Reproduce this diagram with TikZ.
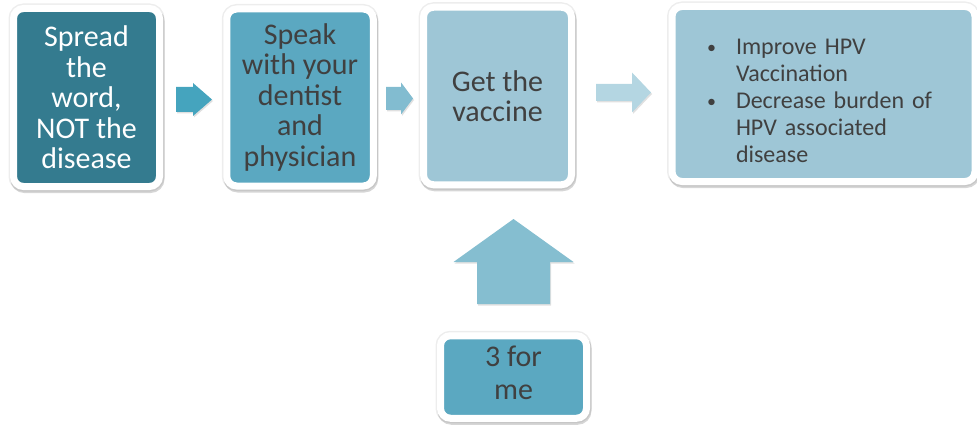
\documentclass[tikz,border=0pt]{standalone}
\usepackage{fontspec}
\setmainfont{Carlito}
\usetikzlibrary{calc,shadows}
\definecolor{DeepTeal}{HTML}{347B8F}
\definecolor{MidTeal}{HTML}{5BA8C1}
\definecolor{PaleTeal}{HTML}{9EC6D6}
\definecolor{ArrowA}{HTML}{45A4BE}
\definecolor{ArrowB}{HTML}{82BCD0}
\definecolor{ArrowC}{HTML}{B4D6E2}
\definecolor{ArrowUp}{HTML}{85BED0}
\definecolor{TextGrey}{HTML}{404040}

\newcommand{\BlockArrow}[6][]{%
  \fill[#1] #2 ++(0,-#5) -- ++({#3-#4},0) -- ++(0,{#5-#6}) -- ++(#4,#6)
    -- ++(-#4,#6) -- ++(0,{#5-#6}) -- ++({#4-#3},0) -- cycle;}
\newcommand{\smallbullet}{\makebox[29pt][l]{\raisebox{1pt}{\fontsize{18}{18}\selectfont\textbullet}}}

\begin{document}
\begin{tikzpicture}[x=1pt,y=-1pt,
  card/.style={draw=white,line width=7pt,rounded corners=10pt,inner sep=0pt,
    align=center,text=TextGrey,font=\fontsize{30}{30.5}\selectfont,
    preaction={draw=black,line width=10pt,opacity=.07},
    preaction={draw=black,line width=8pt,opacity=.16,
      transform canvas={xshift=1pt,yshift=-2.5pt}}},
  arrowshade/.style={drop shadow={shadow xshift=1pt,shadow yshift=-1.5pt,opacity=.2,fill=black!60}}]
\useasboundingbox (0,0) rectangle (977,425);

\node[card,fill=DeepTeal,text=white,minimum width=146pt,minimum height=178pt]
  (spread) at (86.5,97.5) {Spread\\the\\word,\\NOT the\\disease};
\node[card,fill=MidTeal,minimum width=146.5pt,minimum height=177pt]
  (speak) at (300,97.5) {Speak\\with your\\dentist\\and\\physician};
\node[card,fill=PaleTeal,minimum width=148pt,minimum height=177.5pt]
  (vaccine) at (497.5,96) {Get the\\vaccine};
\node[card,fill=PaleTeal,align=left,minimum width=303pt,minimum height=175pt,
  text width=233pt,inner xsep=35pt,font=\fontsize{24}{27}\selectfont]
  (goal) at (823.5,94) {\rule{0pt}{29pt}\mbox{\smallbullet Improve HPV}\\
  \mbox{\hspace*{29pt}Vaccination}\\
  \mbox{\smallbullet Decrease burden of}\\
  \mbox{\hspace*{29pt}HPV associated}\\
  \mbox{\hspace*{29pt}disease}};
\node[card,fill=MidTeal,minimum width=146pt,minimum height=82.5pt,
  font=\fontsize{30}{33}\selectfont]
  (threeforme) at (513.5,377) {3 for\\me\rule[-8pt]{0pt}{0pt}};

\coordinate (a1) at ($(spread.east)+(13,2)$);
\coordinate (a2) at ($(speak.east)+(9.25,1)$);
\coordinate (a3) at ($(vaccine.east)+(21,-3.5)$);
\coordinate (a4) at ($(threeforme.north)+(0,-28.25)$);

\BlockArrow[ArrowA,arrowshade]{(a1)}{36}{19}{12.5}{16.5}
\BlockArrow[ArrowB,arrowshade]{(a2)}{27}{12}{11.5}{16}
\BlockArrow[ArrowC,arrowshade]{(a3)}{55}{19}{8.5}{20}
\BlockArrow[ArrowUp,arrowshade,rotate=90]{(a4)}{85}{43}{36.5}{60}

\end{tikzpicture}
\end{document}
